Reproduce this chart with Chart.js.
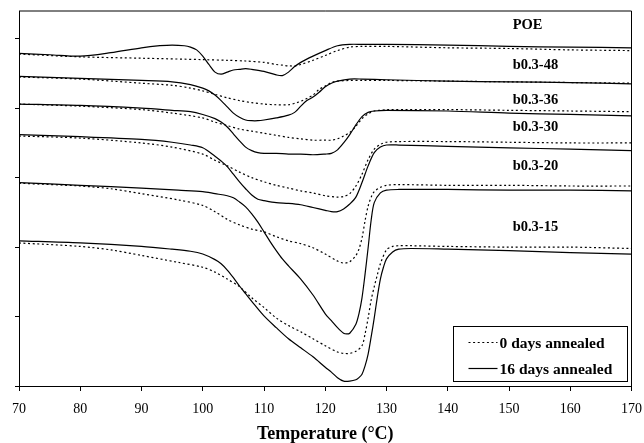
<!DOCTYPE html>
<html><head><meta charset="utf-8">
<script src="https://cdn.jsdelivr.net/npm/chart.js@4.4.1/dist/chart.umd.min.js"></script>
<style>html,body{margin:0;padding:0;background:#fff}#wrap{width:644px;height:443px}</style>
</head><body><div id="wrap"><canvas id="c" width="644" height="443"></canvas></div>
<script>
// ---- data (temperature °C, heat flow arbitrary units, curves offset vertically) ----
const xTicks = [70,80,90,100,110,120,130,140,150,160,170];
const yTicks = [0,1,2,3,4,5];
const sampleNames = ['POE','b0.3-48','b0.3-36','b0.3-30','b0.3-20','b0.3-15'];
const nameLevels = [5.20,4.62,4.12,3.72,3.16,2.29];
const nameTemp = 150.6;
const legendLabels = ['0 days annealed','16 days annealed'];

const poe0 = [[70,4.78],[80,4.74],[90,4.72],[100,4.70],[104,4.69],[107,4.68],[110,4.66],[112,4.63],[113,4.62],[114,4.61],[115,4.61],[116,4.63],[118,4.69],[120,4.76],[122,4.83],[124,4.88],[126,4.89],[130,4.89],[140,4.87],[150,4.86],[160,4.84],[170,4.83]];
const poe16 = [[70,4.79],[75,4.77],[80,4.75],[85,4.80],[90,4.87],[93,4.90],[95,4.91],[97,4.90],[98,4.88],[99,4.84],[100,4.75],[101,4.63],[102,4.52],[103,4.49],[104,4.52],[105,4.55],[106,4.56],[107,4.57],[108,4.56],[110,4.53],[112,4.48],[113,4.47],[114,4.52],[115,4.60],[116,4.66],[118,4.75],[120,4.83],[122,4.90],[124,4.92],[126,4.92],[130,4.92],[140,4.91],[150,4.89],[160,4.88],[170,4.87]];

const b48_0 = [[70,4.45],[80,4.42],[90,4.36],[95,4.33],[98,4.29],[100,4.25],[102,4.20],[104,4.15],[106,4.11],[108,4.08],[110,4.06],[112,4.05],[114,4.05],[115,4.07],[116,4.10],[117,4.14],[118,4.19],[119,4.27],[120,4.32],[121,4.37],[122,4.39],[124,4.40],[126,4.40],[130,4.40],[140,4.39],[150,4.38],[160,4.37],[170,4.36]];
const b48_16 = [[70,4.46],[80,4.43],[90,4.40],[95,4.38],[98,4.34],[100,4.29],[101,4.25],[102,4.19],[103,4.11],[104,4.02],[105,3.93],[106,3.87],[107,3.83],[108,3.82],[109,3.82],[110,3.83],[112,3.86],[114,3.90],[115,3.94],[116,4.03],[117,4.11],[118,4.16],[119,4.23],[120,4.31],[121,4.36],[122,4.39],[124,4.42],[126,4.42],[130,4.41],[140,4.39],[150,4.38],[160,4.37],[170,4.35]];

const b36_0 = [[70,4.06],[80,4.03],[90,3.98],[95,3.93],[100,3.86],[102,3.80],[104,3.75],[106,3.70],[108,3.67],[110,3.64],[112,3.61],[114,3.58],[116,3.56],[118,3.54],[120,3.54],[121,3.54],[122,3.56],[123,3.60],[124,3.65],[125,3.74],[126,3.85],[127,3.92],[128,3.96],[129,3.97],[130,3.98],[140,3.98],[150,3.97],[160,3.96],[170,3.95]];
const b36_16 = [[70,4.06],[80,4.04],[90,4.00],[95,3.97],[98,3.95],[100,3.91],[102,3.85],[103,3.80],[104,3.73],[105,3.63],[106,3.53],[107,3.44],[108,3.39],[109,3.36],[110,3.35],[112,3.35],[114,3.34],[116,3.34],[118,3.33],[120,3.34],[121,3.35],[122,3.40],[123,3.50],[124,3.62],[125,3.76],[126,3.88],[127,3.94],[128,3.96],[130,3.97],[140,3.96],[150,3.93],[160,3.91],[170,3.89]];

const b30_0 = [[70,3.60],[80,3.57],[90,3.50],[95,3.44],[100,3.34],[102,3.25],[104,3.17],[106,3.08],[108,3.00],[110,2.94],[112,2.89],[114,2.85],[116,2.81],[118,2.78],[120,2.74],[122,2.72],[123,2.73],[124,2.77],[125,2.88],[126,3.05],[127,3.26],[128,3.41],[129,3.48],[130,3.51],[132,3.52],[140,3.52],[150,3.51],[160,3.50],[170,3.50]];
const b30_16 = [[70,3.62],[80,3.59],[90,3.55],[95,3.51],[98,3.47],[100,3.43],[102,3.31],[103,3.24],[104,3.16],[105,3.05],[106,2.94],[107,2.84],[108,2.75],[109,2.69],[110,2.67],[112,2.64],[114,2.63],[116,2.61],[118,2.57],[120,2.53],[121,2.51],[122,2.51],[123,2.55],[124,2.62],[125,2.72],[126,2.93],[127,3.17],[128,3.36],[129,3.44],[130,3.47],[132,3.47],[140,3.45],[150,3.43],[160,3.41],[170,3.39]];

const b20_0 = [[70,2.92],[80,2.88],[85,2.84],[90,2.77],[96,2.68],[100,2.60],[102,2.51],[104,2.40],[106,2.32],[108,2.26],[110,2.22],[112,2.15],[114,2.09],[116,2.05],[118,1.99],[120,1.90],[122,1.80],[123,1.77],[124,1.79],[125,1.88],[125.5,1.97],[126,2.13],[126.5,2.38],[127,2.59],[127.5,2.72],[128,2.80],[129,2.86],[130,2.89],[132,2.90],[140,2.89],[150,2.89],[160,2.88],[170,2.88]];
const b20_16 = [[70,2.93],[80,2.89],[90,2.85],[96,2.82],[100,2.80],[102,2.77],[104,2.74],[105,2.71],[106,2.65],[107,2.58],[108,2.48],[109,2.36],[110,2.22],[111,2.08],[112,1.95],[113,1.83],[114,1.73],[116,1.54],[118,1.31],[120,1.04],[121,0.94],[122,0.84],[123,0.76],[123.5,0.75],[124,0.76],[125,0.89],[125.5,1.04],[126,1.27],[126.5,1.61],[127,1.99],[127.5,2.39],[128,2.64],[129,2.78],[130,2.82],[132,2.83],[140,2.83],[150,2.82],[160,2.82],[170,2.81]];

const b15_0 = [[70,2.06],[80,2.01],[85,1.96],[90,1.88],[96,1.78],[100,1.71],[102,1.64],[104,1.54],[106,1.43],[108,1.27],[110,1.13],[112,0.98],[114,0.87],[116,0.78],[118,0.68],[120,0.58],[122,0.49],[123,0.47],[124,0.47],[125,0.50],[126,0.58],[126.5,0.75],[127,0.98],[127.5,1.24],[128,1.43],[128.5,1.60],[129,1.76],[130,1.96],[131,2.01],[132,2.02],[134,2.02],[140,2.01],[150,2.00],[160,2.00],[170,1.98]];
const b15_16 = [[70,2.09],[80,2.06],[90,2.01],[95,1.97],[98,1.94],[100,1.90],[102,1.82],[103,1.76],[104,1.67],[105,1.56],[106,1.44],[107,1.33],[108,1.22],[110,1.01],[112,0.84],[114,0.68],[116,0.55],[118,0.42],[120,0.27],[121,0.20],[122,0.12],[123,0.07],[124,0.07],[125,0.09],[125.5,0.12],[126,0.17],[126.5,0.29],[127,0.46],[127.5,0.71],[128,0.98],[128.5,1.28],[129,1.54],[129.5,1.71],[130,1.83],[131,1.93],[132,1.97],[134,1.98],[140,1.97],[150,1.95],[160,1.92],[170,1.90]];

const unannealed = [poe0,b48_0,b36_0,b30_0,b20_0,b15_0];
const annealed = [poe16,b48_16,b36_16,b30_16,b20_16,b15_16];

// ---- styles ----
const INK = '#000';
const dotStyle = {borderColor: INK, borderWidth: 1.2, borderDash: [2, 2.6]};
const solidStyle = {borderColor: INK, borderWidth: 1.2, borderDash: []};
const SERIF = '"Liberation Serif", "Times New Roman", serif';

const toXY = arr => arr.map(p => ({x: p[0], y: p[1]}));
const datasets = [];
sampleNames.forEach((name, i) => {
  datasets.push(Object.assign({label: name + ' ' + legendLabels[0], data: toXY(unannealed[i])}, dotStyle));
  datasets.push(Object.assign({label: name + ' ' + legendLabels[1], data: toXY(annealed[i])}, solidStyle));
});

const decorPlugin = {
  id: 'decor',
  afterDraw(chart) {
    const {ctx, chartArea: a, scales} = chart;
    ctx.save();
    ctx.strokeStyle = INK; ctx.lineWidth = 1; ctx.setLineDash([]);
    ctx.beginPath();
    ctx.moveTo(a.left, a.top); ctx.lineTo(a.right, a.top); ctx.lineTo(a.right, a.bottom);
    ctx.stroke();
    ctx.fillStyle = INK;
    ctx.font = 'bold 14.5px ' + SERIF;
    ctx.textAlign = 'left'; ctx.textBaseline = 'middle';
    sampleNames.forEach((n, i) => {
      ctx.fillText(n, scales.x.getPixelForValue(nameTemp), scales.y.getPixelForValue(nameLevels[i]));
    });
    const bw = 174, bh = 55;
    const bx = Math.round(a.right - 4.5 - bw) + 0.5, by = Math.round(a.bottom - 5 - bh) + 0.5;
    ctx.fillStyle = '#fff';
    ctx.fillRect(bx, by, bw, bh);
    ctx.strokeStyle = INK; ctx.lineWidth = 1;
    ctx.strokeRect(bx, by, bw, bh);
    const styles = [dotStyle, solidStyle];
    const rows = [by + 16, by + 42];
    ctx.font = 'bold 15.5px ' + SERIF;
    ctx.fillStyle = INK;
    legendLabels.forEach((lab, i) => {
      ctx.beginPath();
      ctx.lineWidth = styles[i].borderWidth;
      ctx.setLineDash(styles[i].borderDash);
      ctx.moveTo(bx + 15, rows[i]); ctx.lineTo(bx + 44, rows[i]);
      ctx.stroke();
      ctx.setLineDash([]);
      ctx.fillText(lab, bx + 46, rows[i] + 1);
    });
    ctx.restore();
  }
};

new Chart(document.getElementById('c'), {
  type: 'line',
  data: {datasets},
  options: {
    responsive: false,
    animation: false,
    events: [],
    devicePixelRatio: 1,
    layout: {padding: {top: 11, right: 12.5, left: 0, bottom: 0}},
    elements: {point: {radius: 0}, line: {tension: 0.3, fill: false}},
    plugins: {legend: {display: false}, tooltip: {enabled: false}},
    scales: {
      x: {
        type: 'linear', min: 70, max: 170,
        afterBuildTicks: s => { s.ticks = xTicks.map(v => ({value: v})); },
        afterFit: s => { s.height = 57; s.paddingRight = 0; s.paddingLeft = 0; },
        ticks: {color: INK, font: {family: SERIF, size: 14}, padding: 10, maxRotation: 0},
        grid: {display: true, drawOnChartArea: false, drawTicks: true, tickLength: 5, color: INK},
        border: {display: true, color: INK, width: 1},
        title: {display: true, text: 'Temperature (°C)', color: INK, font: {family: SERIF, size: 18, weight: 'bold'}, padding: {top: 0, bottom: -2}}
      },
      y: {
        type: 'linear', min: 0, max: 5.4,
        afterBuildTicks: s => { s.ticks = yTicks.map(v => ({value: v})); },
        afterFit: s => { s.width = 19; },
        ticks: {display: false},
        grid: {display: true, drawOnChartArea: false, drawTicks: true, tickLength: 4, color: INK},
        border: {display: true, color: INK, width: 1}
      }
    }
  },
  plugins: [decorPlugin]
});
</script></body></html>
